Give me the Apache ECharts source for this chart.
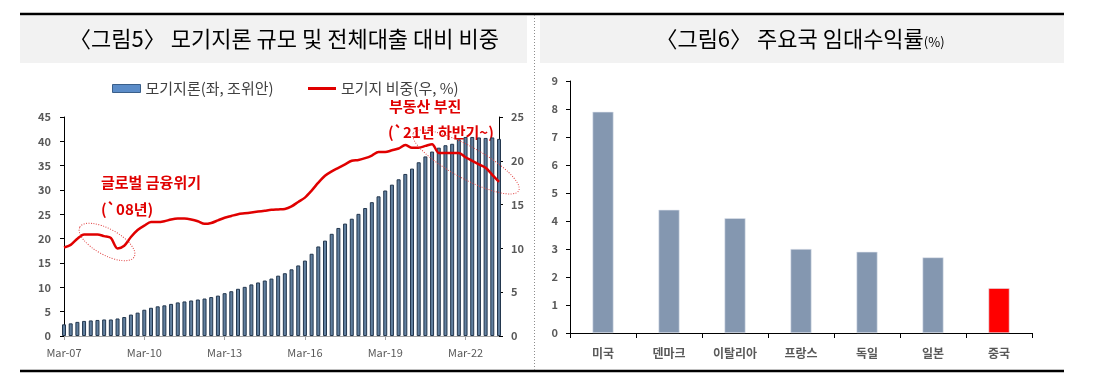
<!DOCTYPE html>
<html>
<head>
<meta charset="utf-8">
<script src="https://cdn.jsdelivr.net/npm/echarts@6/dist/echarts.min.js"></script>
<style>
html, body { margin: 0; padding: 0; background: #fff; }
#chart { width: 1109px; height: 376px; }
</style>
</head>
<body>
<div id="chart"></div>
<script>
// 그림5 : 분기말 기준 (2007.3 ~ 2023.6)
const quarters = [];
for (let y = 7; y <= 23; y++) {
  ['Mar', 'Jun', 'Sep', 'Dec'].forEach(m => quarters.push(m + '-' + String(y).padStart(2, '0')));
}
quarters.length = 66;

// 모기지론 잔액 (좌, 조위안)
const mortgageBal = [
  2.4, 2.6, 2.9, 3.1, 3.2, 3.3, 3.4, 3.4, 3.6, 3.9,
  4.4, 4.8, 5.4, 5.8, 6.1, 6.3, 6.6, 6.9, 7.1, 7.3,
  7.5, 7.7, 8.0, 8.3, 8.8, 9.2, 9.7, 10.1, 10.6, 11.0,
  11.4, 11.8, 12.4, 12.9, 13.7, 14.5, 15.5, 16.9, 18.4, 19.6,
  21.0, 22.2, 23.1, 24.1, 25.1, 26.3, 27.5, 28.7, 29.9, 31.1,
  32.2, 33.3, 34.4, 35.7, 36.9, 37.9, 38.7, 39.2, 39.5, 40.4,
  40.9, 40.9, 40.8, 40.7, 40.8, 40.5
];
// 모기지 비중 (우, %)
const mortgageShare = [
  10.1, 10.4, 11.1, 11.6, 11.6, 11.6, 11.4, 11.2, 10.0, 10.3,
  11.3, 12.1, 12.6, 13.0, 13.0, 13.1, 13.3, 13.4, 13.4, 13.3,
  13.1, 12.8, 12.9, 13.2, 13.5, 13.7, 13.9, 14.0, 14.1, 14.2,
  14.3, 14.4, 14.45, 14.5, 14.8, 15.3, 15.8, 16.6, 17.5, 18.3,
  18.8, 19.2, 19.6, 20.0, 20.1, 20.3, 20.6, 21.0, 21.0, 21.2,
  21.4, 21.8, 21.5, 21.5, 21.7, 21.9, 20.9, 20.9, 20.9, 20.9,
  20.4, 20.0, 19.6, 19.2, 18.4, 17.6
];

// 그림6 : 주요국 임대수익률 (%)
const countries = ['미국', '덴마크', '이탈리아', '프랑스', '독일', '일본', '중국'];
const rentYield = [7.9, 4.4, 4.1, 3.0, 2.9, 2.7, 1.6];

const FONT = "'Noto Sans CJK KR', 'Noto Sans', sans-serif";
const axisGrey = '#595959';

const chart = echarts.init(document.getElementById('chart'));

const legendText = { fontSize: 15, color: '#404040', fontFamily: FONT };

const option = {
  animation: false,
  textStyle: { fontFamily: FONT },
  legend: [
    {
      left: 107, top: 76, itemWidth: 28, itemHeight: 8,
      textStyle: legendText,
      data: [{ name: '모기지론(좌, 조위안)', icon: 'rect', itemStyle: { color: '#5b8cc8', borderColor: '#3a5f8a', borderWidth: 1 } }]
    },
    {
      left: 303, top: 76, itemWidth: 28, itemHeight: 3,
      textStyle: legendText,
      data: [{ name: '모기지 비중(우, %)', icon: 'rect', itemStyle: { color: '#e00000' } }]
    }
  ],
  grid: [
    { left: 64, right: 610, top: 117, bottom: 40 },
    { left: 570, right: 77, top: 81, bottom: 43 }
  ],
  xAxis: [
    {
      gridIndex: 0,
      type: 'category',
      data: quarters,
      boundaryGap: false,
      axisLine: { lineStyle: { color: '#a6a6a6' } },
      axisTick: { show: true, interval: 11, length: 4, lineStyle: { color: '#a6a6a6' } },
      axisLabel: { interval: 11, color: axisGrey, fontSize: 11, margin: 11 }
    },
    {
      gridIndex: 1,
      type: 'category',
      data: countries,
      axisLine: { lineStyle: { color: '#000' } },
      axisTick: { show: true, length: 5, lineStyle: { color: '#000' } },
      axisLabel: { color: axisGrey, fontSize: 12, fontWeight: 'bold', margin: 14 }
    }
  ],
  yAxis: [
    {
      gridIndex: 0,
      type: 'value',
      min: 0, max: 45, interval: 5,
      axisLine: { show: true, lineStyle: { color: '#000' } },
      axisTick: { show: true, length: 4, lineStyle: { color: '#000' } },
      splitLine: { show: false },
      axisLabel: { color: axisGrey, fontSize: 11, fontWeight: 'bold', margin: 13 }
    },
    {
      gridIndex: 0,
      type: 'value',
      position: 'right',
      min: 0, max: 25, interval: 5,
      axisLine: { show: true, lineStyle: { color: '#000' } },
      axisTick: { show: true, length: 4, lineStyle: { color: '#000' } },
      splitLine: { show: false },
      axisLabel: { color: axisGrey, fontSize: 11, fontWeight: 'bold', margin: 12 }
    },
    {
      gridIndex: 1,
      type: 'value',
      min: 0, max: 9, interval: 1,
      axisLine: { show: true, lineStyle: { color: '#000' } },
      axisTick: { show: true, length: 4, lineStyle: { color: '#000' } },
      splitLine: { show: false },
      axisLabel: { color: axisGrey, fontSize: 11, fontWeight: 'bold', margin: 12 }
    }
  ],
  series: [
    {
      name: '모기지론(좌, 조위안)',
      type: 'bar',
      xAxisIndex: 0,
      yAxisIndex: 0,
      barWidth: 4,
      data: mortgageBal,
      itemStyle: { color: '#617f9e', borderColor: '#23374e', borderWidth: 1 }
    },
    {
      name: '모기지 비중(우, %)',
      type: 'line',
      xAxisIndex: 0,
      yAxisIndex: 1,
      symbol: 'none',
      smooth: 0.3,
      data: mortgageShare,
      lineStyle: { color: '#e00000', width: 2.5 },
      itemStyle: { color: '#e00000' },
      z: 5
    },
    {
      name: '임대수익률',
      type: 'bar',
      xAxisIndex: 1,
      yAxisIndex: 2,
      barWidth: 21,
      data: rentYield.map((v, i) => countries[i] === '중국'
        ? { value: v, itemStyle: { color: '#ff0000' } }
        : v),
      itemStyle: { color: '#8497b0', borderColor: '#dfe4ec', borderWidth: 0.6 }
    }
  ],
  graphic: [
    // 제목 배경
    { type: 'rect', shape: { x: 20, y: 16, width: 507, height: 47 }, style: { fill: '#f2f2f2' }, z: -1 },
    { type: 'rect', shape: { x: 540, y: 16, width: 524, height: 47 }, style: { fill: '#f2f2f2' }, z: -1 },
    // 위/아래 굵은 선, 가운데 점선
    { type: 'line', shape: { x1: 20, y1: 14, x2: 1064, y2: 14 }, style: { stroke: '#000', lineWidth: 2.5 } },
    { type: 'line', shape: { x1: 20, y1: 371, x2: 1064, y2: 371 }, style: { stroke: '#000', lineWidth: 2.5 } },
    { type: 'line', shape: { x1: 534.5, y1: 15, x2: 534.5, y2: 370 }, style: { stroke: '#8c8c8c', lineWidth: 1, lineDash: [1, 2] } },
    // 제목
    {
      type: 'text', x: 284, y: 39,
      style: { text: '〈그림5〉 모기지론 규모 및 전체대출 대비 비중', font: '22px ' + FONT, fill: '#000', align: 'center', verticalAlign: 'middle' }
    },
    {
      type: 'text', x: 800, y: 39,
      style: {
        text: '〈그림6〉 주요국 임대수익률{s|(%)}', font: '22px ' + FONT, fill: '#000', align: 'center', verticalAlign: 'middle',
        rich: { s: { fontSize: 13, fontFamily: FONT, fill: '#000', padding: [6, 0, 0, 0] } }
      }
    },
    // 주석
    { type: 'text', x: 101, y: 182, style: { text: '글로벌 금융위기', font: 'bold 15px ' + FONT, fill: '#e00000', verticalAlign: 'middle' } },
    { type: 'text', x: 101, y: 209, style: { text: '(`08년)', font: 'bold 15px ' + FONT, fill: '#e00000', verticalAlign: 'middle' } },
    { type: 'text', x: 389, y: 106, style: { text: '부동산 부진', font: 'bold 15px ' + FONT, fill: '#e00000', verticalAlign: 'middle' } },
    { type: 'text', x: 388, y: 132, style: { text: '(`21년 하반기~)', font: 'bold 15px ' + FONT, fill: '#e00000', verticalAlign: 'middle' } },
    {
      type: 'ellipse', shape: { cx: 107, cy: 242, rx: 31, ry: 13 }, rotation: -0.5, originX: 107, originY: 242,
      style: { fill: 'none', stroke: '#e04040', lineWidth: 1, lineDash: [1, 1.5] }, z: 10
    },
    {
      type: 'ellipse', shape: { cx: 466, cy: 162, rx: 60, ry: 16 }, rotation: -0.5, originX: 466, originY: 162,
      style: { fill: 'none', stroke: '#e04040', lineWidth: 1, lineDash: [1, 1.5] }, z: 10
    }
  ]
};

chart.setOption(option);
</script>
</body>
</html>
